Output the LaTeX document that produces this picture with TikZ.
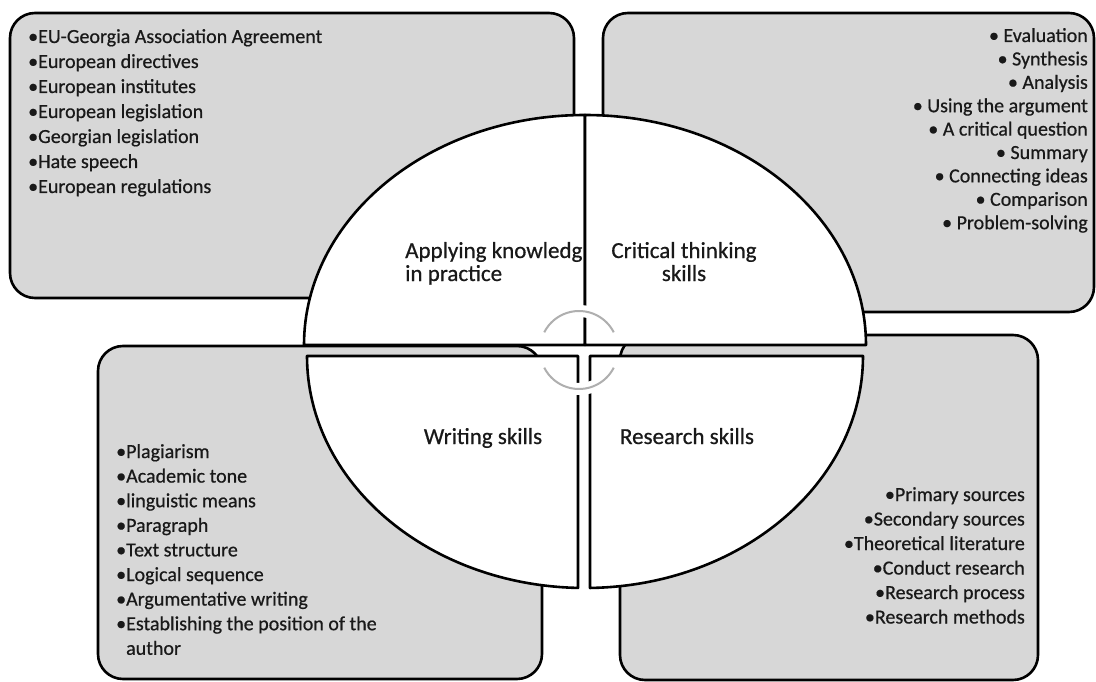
\documentclass[tikz,border=0pt]{standalone}
\usepackage{fontspec}
\setmainfont{Carlito}[FakeBold=0.6]
\usepackage{xcolor}
\usepackage{tikz}
\usetikzlibrary{shapes, positioning, calc}
\definecolor{boxgray}{RGB}{215, 215, 215}
\definecolor{arcgray}{RGB}{175, 175, 175}
\definecolor{inkgray}{RGB}{25, 25, 25}
\tikzset{
  listbox/.style={draw=black, fill=boxgray, line width=2.6pt, rounded corners=25pt, inner sep=0pt},
  quarter/.style={draw=black, fill=white, line width=2.6pt, line join=round},
  item/.style={inner sep=0pt, text=inkgray, font=\fontsize{20}{25}\selectfont},
  lbl/.style={inner sep=0pt, text=inkgray, font=\fontsize{23}{23}\selectfont},
  cyc/.style={draw=arcgray, line width=2pt, preaction={draw=white, line width=12pt}}
}

\begin{document}
\begin{tikzpicture}[x=1pt, y=-1pt]
        \useasboundingbox (0,0) rectangle (1096,682);

        % Knowledge Box
        \node[listbox, minimum width=564pt, minimum height=285pt] (knowbox) at (292,155.5) {};

        % Critical thinking Box
        \node[listbox, minimum width=491pt, minimum height=299pt] (critbox) at (848.5,162.5) {};

        % Writing Box
        \node[listbox, minimum width=444pt, minimum height=333pt] (writbox) at (320,512.5) {};

        % Research Box
        \node[listbox, minimum width=418pt, minimum height=345pt] (resbox) at (829,507.5) {};

        % Lists
        \foreach \t [count=\i] in {EU-Georgia Association Agreement, European directives, European institutes, European legislation, Georgian legislation, Hate speech, European regulations}
            \node[item, anchor=base west] (know\i) at (28,18+25*\i) {•\t};
        \foreach \t [count=\i] in {Evaluation, Synthesis, Analysis, Using the argument, A critical question, Summary, Connecting ideas, Comparison, Problem-solving}
            \node[item, anchor=base east] (crit\i) at (1088,18.6+23.4*\i) {• \t};
        \foreach \t [count=\i] in {Plagiarism, Academic tone, linguistic means, Paragraph, Text structure, Logical sequence, Argumentative writing, Establishing the position of the}
            \node[item, anchor=base west] (writ\i) at (116,433.4+24.6*\i) {•\t};
        \node[item, anchor=base west] (writ9) at (116,654.8) {\phantom{•}author};
        \foreach \t [count=\i] in {Primary sources, Secondary sources, Theoretical literature, Conduct research, Research process, Research methods}
            \node[item, anchor=base east] (res\i) at (1025,476.5+24.5*\i) {•\t};

        % Upper quarters
        \draw[quarter] (585,345) -- (304,345) arc[start angle=180, end angle=90, x radius=281pt, y radius=230pt] -- cycle;
        \draw[quarter] (585,345) -- (866,345) arc[start angle=0, end angle=90, x radius=281pt, y radius=230pt] -- cycle;

        % Lower quarters
        \draw[quarter] (578,356) -- (307,356) arc[start angle=180, end angle=268.56, x radius=278pt, y radius=232pt] -- cycle;
        \draw[quarter] (590,356) -- (863,356) arc[start angle=0, end angle=-88.97, x radius=278pt, y radius=232pt] -- cycle;

        % Labels
        \node[lbl, anchor=base west, align=left] (apply) at (405,281) {Applying knowledg\\in practice};
        \node[lbl, anchor=base, align=center] (crit) at (684,281) {Critical thinking\\skills};
        \node[lbl, anchor=base] (writ) at (483,444) {Writing skills};
        \node[lbl, anchor=base] (res) at (687,444) {Research skills};

        % Cycle arcs
        \coordinate (hub) at (579,350);
        \draw[cyc] ([shift={(153:39pt)}]hub) arc[start angle=153, end angle=27, radius=39pt];
        \draw[cyc] ([shift={(207:39pt)}]hub) arc[start angle=207, end angle=333, radius=39pt];
    \end{tikzpicture}
\end{document}
